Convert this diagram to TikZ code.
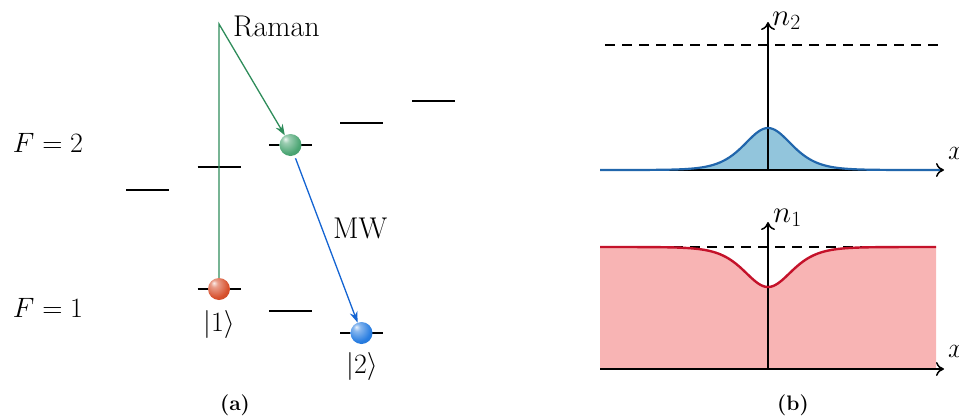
\documentclass[tikz,border=0pt]{standalone}
\usepackage{fix-cm}
\usepackage{fontspec}
\usetikzlibrary{arrows.meta,shapes.geometric}
\definecolor{ramang}{RGB}{46,140,90}
\definecolor{mwblue}{RGB}{20,100,210}
\definecolor{redball}{RGB}{215,80,45}
\definecolor{greenball}{RGB}{75,165,115}
\definecolor{blueball}{RGB}{40,125,225}
\definecolor{nbluefill}{RGB}{146,197,220}
\definecolor{nblueline}{RGB}{33,102,172}
\definecolor{nredfill}{RGB}{248,180,180}
\definecolor{nredline}{RGB}{196,18,42}
\makeatletter
\pgfdeclareradialshading[tikz@ball]{lightball}{\pgfqpoint{-12bp}{14bp}}{%
  color(0bp)=(tikz@ball!10!white);
  color(8bp)=(tikz@ball!55!white);
  color(28bp)=(tikz@ball);
  color(50bp)=(tikz@ball!85!black);
  color(70bp)=(tikz@ball!75!black)}
\makeatother
\tikzset{
  lvl/.style={line width=1.8pt,black},
  atom/.style={circle,minimum size=22pt,inner sep=0pt},
  lab/.style={font=\fontsize{28}{32}\selectfont,inner sep=0pt},
  axlab/.style={font=\fontsize{31}{35}\selectfont,inner sep=0pt},
  word/.style={font=\fontsize{30}{34}\selectfont,inner sep=0pt},
  subcap/.style={font=\fontsize{21}{25}\selectfont\bfseries,inner sep=0pt},
  axis/.style={line width=1.5pt,-{To[length=8pt,width=14pt]}},
  limit/.style={line width=2.6pt,dash pattern=on 10pt off 7pt},
  tr/.style={line width=1.3pt,-{Stealth[length=11pt,width=8pt]}}
}
\begin{document}
\begin{tikzpicture}[x=1pt,y=-1pt]
\useasboundingbox (0,0) rectangle (959,418);
% ---------- panel (a) ----------
\node[lab] (f2) at (48,143) {$F=2$};
\node[lab] (f1) at (48,308) {$F=1$};
% F=2 levels
\foreach \cx/\cy in {147.5/190,219/167,290.5/145,361.5/123,433.5/101}
  \draw[lvl] (\cx-21.5,\cy) -- (\cx+21.5,\cy);
% F=1 levels
\foreach \cx/\cy in {219/289,290.5/311,361.5/333}
  \draw[lvl] (\cx-21.5,\cy) -- (\cx+21.5,\cy);
\coordinate (top) at (219,24);
\node[atom,ball color=redball,shading=lightball] (b1) at (219,289) {};
\node[atom,ball color=greenball,shading=lightball] (b2) at (290.5,145) {};
\node[atom,ball color=blueball,shading=lightball] (b3) at (361.5,333) {};
\draw[tr,ramang] (b1) -- (top) -- (b2);
\draw[tr,mwblue,shorten <=3pt] (b2) -- (b3);
\node[word,anchor=base west] (raman) at (233,36) {Raman};
\node[word,anchor=base west] (mw) at (333,238) {MW};
\node[lab] (k1) at (219,324) {$|1\rangle$};
\node[lab] (k2) at (362,366) {$|2\rangle$};
\node[subcap] (capa) at (235,405) {(a)};
% ---------- panel (b) ----------
% top: n2
\fill[nbluefill] (600,170) -- plot[domain=600:936,samples=160] (\x,{170-42/(cosh((\x-768)/32))^2}) -- (936,170) -- cycle;
\draw[limit] (605,45) -- (939,45);
\coordinate (xa0) at (600,170);
\coordinate (xa1) at (944,170);
\coordinate (ya0) at (768,170);
\coordinate (ya1) at (768,22);
\draw[axis] (xa0) -- (xa1);
\draw[axis] (ya0) -- (ya1);
\draw[nblueline,line width=2.2pt] plot[domain=600:940,samples=160] (\x,{170-42/(cosh((\x-768)/32))^2});
\node[axlab,anchor=base west] (n2) at (772,25) {$n_2$};
\node[lab,anchor=base west] (x2) at (948,159) {$x$};
% bottom: n1
\fill[nredfill] (600,369) -- plot[domain=600:936,samples=160] (\x,{247+40/(cosh((\x-768)/32))^2}) -- (936,369) -- cycle;
\draw[limit] (605,247) -- (936,247);
\coordinate (xb0) at (600,369);
\coordinate (xb1) at (944,369);
\coordinate (yb0) at (768,369);
\coordinate (yb1) at (768,222);
\draw[axis] (xb0) -- (xb1);
\draw[axis] (yb0) -- (yb1);
\draw[nredline,line width=2.4pt] plot[domain=600:936,samples=160] (\x,{247+40/(cosh((\x-768)/32))^2});
\node[axlab,anchor=base west] (n1) at (773,222) {$n_1$};
\node[lab,anchor=base west] (x1) at (948,357) {$x$};
\node[subcap] (capb) at (793,405) {(b)};
\end{tikzpicture}
\end{document}
